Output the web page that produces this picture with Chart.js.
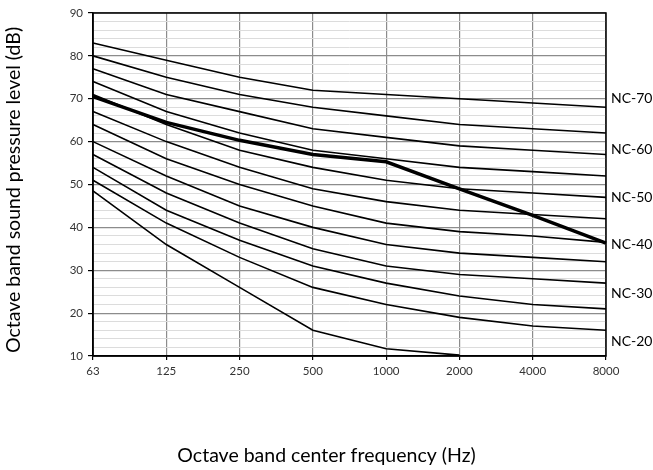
<!DOCTYPE html>
<html>
<head>
<meta charset="utf-8">
<script src="https://cdn.jsdelivr.net/npm/chart.js@4.4.1/dist/chart.umd.min.js"></script>
<style>
  html, body { margin: 0; padding: 0; background: #fff; }
  #wrap { width: 653px; height: 470px; }
</style>
</head>
<body>
<div id="wrap"><canvas id="ncChart"></canvas></div>
<script>
    "use strict";

    // octave bands
    var bands = ['63', '125', '250', '500', '1000', '2000', '4000', '8000'];

    // NC curves (dB)
    var nc15 = [48.5, 36, 26, 16, 11.7, 10.2, null, null];
    var nc20 = [51, 41, 33, 26, 22, 19, 17, 16];
    var nc25 = [54, 44, 37, 31, 27, 24, 22, 21];
    var nc30 = [57, 48, 41, 35, 31, 29, 28, 27];
    var nc35 = [60, 52, 45, 40, 36, 34, 33, 32];
    var nc40 = [64, 56, 50, 45, 41, 39, 38, 36.5];
    var nc45 = [67, 60, 54, 49, 46, 44, 43, 42];
    var nc50 = [71, 64, 58, 54, 51, 49, 48, 47];
    var nc55 = [74, 67, 62, 58, 56, 54, 53, 52];
    var nc60 = [77, 71, 67, 63, 61, 59, 58, 57];
    var nc65 = [80, 75, 71, 68, 66, 64, 63, 62];
    var nc70 = [83, 79, 75, 72, 71, 70, 69, 68];

    // measured spectrum (bold line)
    var measured = [70.5, 64.5, 60.3, 57, 55.3, 49, 42.8, 36.3];

    // right hand labels
    var ncLabels = ['NC-70', 'NC-60', 'NC-50', 'NC-40', 'NC-30', 'NC-20'];
    var ncLabelLevels = [70, 58.2, 47, 36, 24.6, 13.3];

    var xTitle = 'Octave band center frequency (Hz)';
    var yTitle = 'Octave band sound pressure level (dB)';

    var curves = [nc15, nc20, nc25, nc30, nc35, nc40, nc45, nc50, nc55, nc60, nc65, nc70];

    var datasets = curves.map(function (c) {
        return { data: c, borderColor: '#000', borderWidth: 1.6, pointRadius: 0, tension: 0, fill: false };
    });
    datasets.push({ data: measured, borderColor: '#000', borderWidth: 3.5, pointRadius: 0, tension: 0, fill: false });

    var font = "Lato, 'Open Sans', sans-serif";

    // frame, axis titles and NC labels
    var ncPlugin = {
        id: 'ncLabels',
        afterDraw: function (chart) {
            var ctx = chart.ctx;
            var a = chart.chartArea;
            var y = chart.scales.y;
            ctx.save();
            ctx.strokeStyle = '#000';
            ctx.lineWidth = 1.5;
            ctx.strokeRect(a.left, a.top, a.right - a.left, a.bottom - a.top);
            ctx.fillStyle = '#000';
            ctx.font = '14px ' + font;
            ctx.textBaseline = 'middle';
            ctx.textAlign = 'left';
            ncLabels.forEach(function (t, i) {
                ctx.fillText(t, a.right + 5, y.getPixelForValue(ncLabelLevels[i]));
            });

            ctx.font = '19.5px ' + font;
            ctx.textAlign = 'center';
            ctx.fillText(xTitle, chart.width / 2, 456);
            ctx.translate(14, 190);
            ctx.rotate(-Math.PI / 2);
            ctx.fillText(yTitle, 0, 0);
            ctx.restore();
        }
    };

    var ctx = document.getElementById('ncChart');
    var myChart = new Chart(ctx, {
        type: 'line',
        data: { labels: bands, datasets: datasets },
        options: {
            responsive: true,
            maintainAspectRatio: false,
            animation: false,
            layout: { padding: { top: 13, right: 47, left: 0, bottom: 0 } },
            plugins: { legend: { display: false }, tooltip: { enabled: false } },
            scales: {
                x: {
                    offset: false,
                    afterFit: function (s) { s.height = 114; },
                    grid: { color: '#8c8c8c', lineWidth: 1.2, tickLength: 4, tickColor: '#000' },
                    border: { color: '#000', width: 1.5 },
                    ticks: { color: '#333', font: { family: font, size: 11.5 }, maxRotation: 0, autoSkip: false, padding: 4 }
                },
                y: {
                    min: 10,
                    max: 90,
                    afterFit: function (s) { s.width = 93; },
                    ticks: {
                        stepSize: 2,
                        autoSkip: false,
                        color: '#333',
                        font: { family: font, size: 11.5 },
                        padding: 5,
                        callback: function (v) { return v % 10 === 0 ? v : ''; }
                    },
                    grid: {
                        tickLength: 5,
                        color: function (c) { return c.tick && c.tick.value % 10 === 0 ? '#8c8c8c' : '#dcdcdc'; },
                        lineWidth: function (c) { return c.tick && c.tick.value % 10 === 0 ? 1.2 : 1; },
                        tickColor: function (c) { return c.tick && c.tick.value % 10 === 0 ? '#000' : 'rgba(0,0,0,0)'; }
                    },
                    border: { color: '#000', width: 1.5 }
                }
            }
        },
        plugins: [ncPlugin]
    });
</script>
</body>
</html>
